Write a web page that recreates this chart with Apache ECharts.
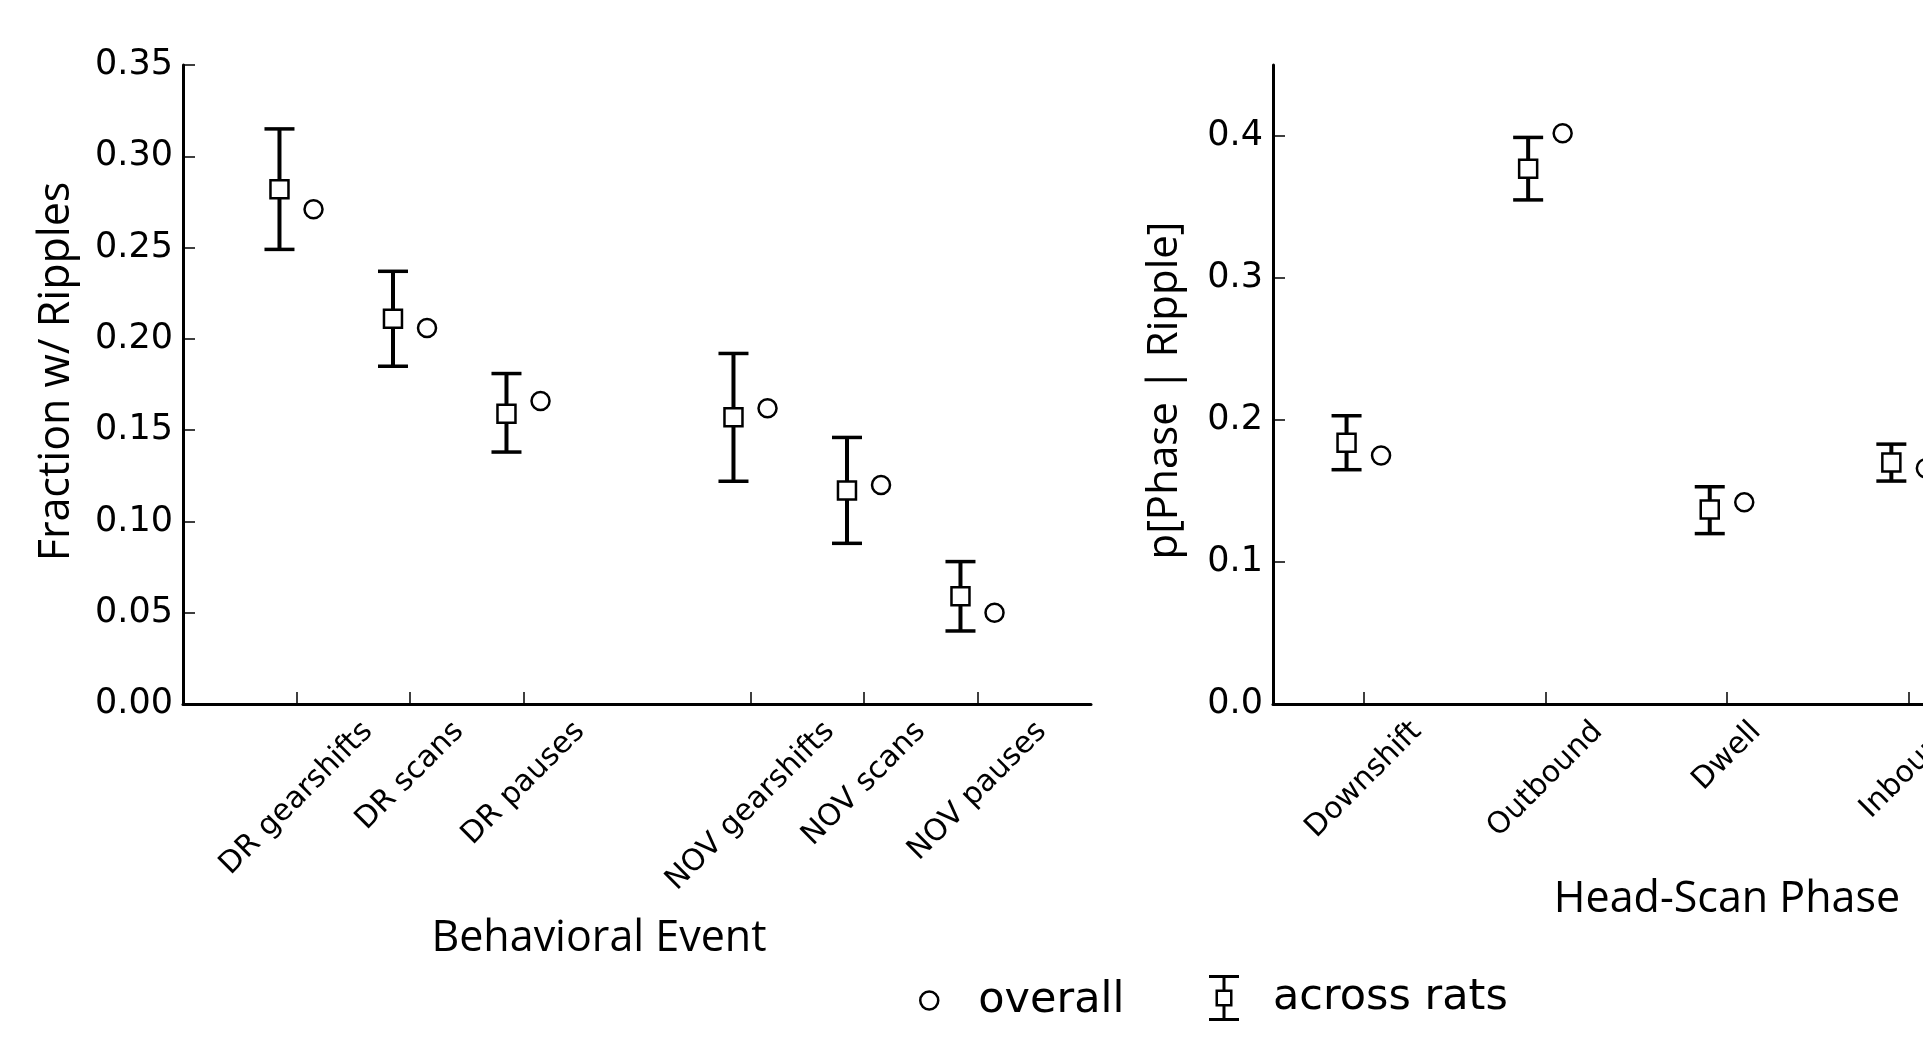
<!DOCTYPE html>
<html>
<head>
<meta charset="utf-8">
<script src="https://cdn.jsdelivr.net/npm/echarts@6/dist/echarts.min.js"></script>
<style>
html, body { margin: 0; padding: 0; background: #fff; }
#chart { width: 1923px; height: 1060px; }
</style>
</head>
<body>
<div id="chart"></div>
<script>
// left panel: behavioral events (x positions leave a gap between DR and NOV)
var eventLabels = ['DR gearshifts', 'DR scans', 'DR pauses', 'NOV gearshifts', 'NOV scans', 'NOV pauses'];
var eventPos = [1, 2, 3, 5, 6, 7];
var eventMean = [0.282, 0.211, 0.159, 0.157, 0.117, 0.059];
var eventLow = [0.249, 0.185, 0.138, 0.122, 0.088, 0.040];
var eventHigh = [0.315, 0.237, 0.181, 0.192, 0.146, 0.078];
var eventOverall = [0.271, 0.206, 0.166, 0.162, 0.120, 0.050];
var eventYTicks = [0, 0.05, 0.10, 0.15, 0.20, 0.25, 0.30, 0.35];

// right panel: head-scan phases
var phaseLabels = ['Downshift', 'Outbound', 'Dwell', 'Inbound'];
var phasePos = [0, 1, 2, 3];
var phaseMean = [0.184, 0.377, 0.137, 0.170];
var phaseLow = [0.165, 0.355, 0.120, 0.157];
var phaseHigh = [0.203, 0.399, 0.153, 0.183];
var phaseOverall = [0.175, 0.402, 0.142, 0.166];
var phaseYTicks = [0, 0.1, 0.2, 0.3, 0.4];

var chart = echarts.init(document.getElementById('chart'), null, {renderer: 'canvas'});

var tickFont = 'DejaVu Sans';
var nameFont = 'Open Sans';
var catFont = '30px "DejaVu Sans"';

var measure = document.createElement('canvas').getContext('2d');
measure.font = catFont;

// matplotlib style: 45deg labels centred on the tick, their top kept just under the axis
function tickText(labels) {
    return function (params, api) {
        var t = labels[params.dataIndex];
        var p = api.coord([api.value(0), api.value(1)]);
        var L = measure.measureText(t).width;
        return {
            type: 'text', x: p[0], y: p[1] + 11 + (L + 34) / (2 * Math.SQRT2),
            rotation: Math.PI / 4, silent: true,
            style: {text: t, align: 'center', verticalAlign: 'middle', font: catFont,
                lineHeight: 34, fill: '#000'}
        };
    };
}

function errorBar(params, api) {
    var x = api.value(0);
    var lo = api.coord([x, api.value(1)]);
    var hi = api.coord([x, api.value(2)]);
    var w = 15;
    return {
        type: 'group',
        children: [
            {type: 'line', shape: {x1: lo[0], y1: lo[1], x2: hi[0], y2: hi[1]},
                style: {stroke: '#000', lineWidth: 4}},
            {type: 'line', shape: {x1: hi[0] - w, y1: hi[1], x2: hi[0] + w, y2: hi[1]},
                style: {stroke: '#000', lineWidth: 3.5}},
            {type: 'line', shape: {x1: lo[0] - w, y1: lo[1], x2: lo[0] + w, y2: lo[1]},
                style: {stroke: '#000', lineWidth: 3.5}}
        ]
    };
}

function xAxisFor(idx, min, max, pos, name, nameGap, namePad) {
    return {
        gridIndex: idx, type: 'value', min: min, max: max,
        axisLine: {show: true, onZero: false, lineStyle: {color: '#000', width: 3}},
        axisTick: {show: true, inside: true, length: 12, customValues: pos,
            lineStyle: {color: '#000', width: 1.5}},
        axisLabel: {show: false},
        splitLine: {show: false},
        name: name, nameLocation: 'middle', nameGap: nameGap,
        nameTextStyle: {fontFamily: nameFont, fontSize: 43, color: '#000', padding: namePad}
    };
}

function yAxisFor(idx, max, ticks, digits, name, nameGap, fontSize, namePad) {
    return {
        gridIndex: idx, type: 'value', min: 0, max: max,
        axisLine: {show: true, onZero: false, lineStyle: {color: '#000', width: 3}},
        axisTick: {show: true, inside: true, length: 12, customValues: ticks,
            lineStyle: {color: '#000', width: 1.5}},
        axisLabel: {
            customValues: ticks, margin: 10, color: '#000',
            fontFamily: tickFont, fontSize: 35,
            showMinLabel: true, showMaxLabel: true,
            formatter: function (v) { return v.toFixed(digits); }
        },
        splitLine: {show: false},
        name: name, nameLocation: 'middle', nameGap: nameGap,
        nameTextStyle: {fontFamily: nameFont, fontSize: fontSize, color: '#000', padding: namePad}
    };
}

var squareStyle = {color: '#fff', borderColor: '#000', borderWidth: 2.5, opacity: 1};
var circleStyle = {color: '#fff', borderColor: '#000', borderWidth: 2.5, opacity: 1};

var leftOff = 0.15, rightOff = 0.095;

var option = {
    animation: false,
    backgroundColor: '#fff',
    grid: [
        {left: 183, top: 65, width: 908, height: 639, outerBoundsMode: 'none'},
        {left: 1273, top: 65, width: 908, height: 639, outerBoundsMode: 'none'}
    ],
    xAxis: [
        xAxisFor(0, 0, 8, eventPos, 'Behavioral Event', 213, [0, 76, 0, 0]),
        xAxisFor(1, -0.5, 4.5, phasePos, 'Head-Scan Phase', 174, 0)
    ],
    yAxis: [
        yAxisFor(0, 0.35, eventYTicks, 2, 'Fraction w/ Ripples', 105, 43, [0, 0, 0, 26]),
        yAxisFor(1, 0.45, phaseYTicks, 1, 'p[Phase | Ripple]', 87, 42, [0, 12, 0, 0])
    ],
    legend: [
        {
            data: [{name: 'overall', icon: 'circle',
                itemStyle: {color: '#fff', borderColor: '#000', borderWidth: 2.5}}],
            left: 919, top: 979, padding: 0, itemWidth: 18, itemHeight: 18,
            selectedMode: false,
            formatter: function (n) { return '{t|' + n + '}'; },
            textStyle: {rich: {t: {fontFamily: tickFont, fontSize: 43, lineHeight: 46,
                color: '#000', padding: [0, 0, 0, 35]}}}
        },
        {
            data: [{name: 'across rats',
                icon: 'path://M0 0H30V3H0Z M13.5 3H16.5V14.5H13.5Z M6.5 14.5H23.5V31.5H6.5Z M9 17V29H21V17Z M13.5 31.5H16.5V43H13.5Z M0 43H30V46H0Z',
                itemStyle: {color: '#000', borderWidth: 0}}],
            left: 1209, top: 975, padding: 0, itemWidth: 30, itemHeight: 46,
            selectedMode: false,
            formatter: function (n) { return '{t|' + n + '}'; },
            textStyle: {rich: {t: {fontFamily: tickFont, fontSize: 43, lineHeight: 46,
                color: '#000', padding: [0, 0, 0, 29]}}}
        }
    ],
    series: [
        {
            type: 'custom', xAxisIndex: 0, yAxisIndex: 0, silent: true,
            renderItem: tickText(eventLabels), encode: {x: 0, y: 1},
            data: eventPos.map(function (p) { return [p, 0]; })
        },
        {
            type: 'custom', xAxisIndex: 1, yAxisIndex: 1, silent: true,
            renderItem: tickText(phaseLabels), encode: {x: 0, y: 1},
            data: phasePos.map(function (p) { return [p, 0]; })
        },
        {
            name: 'across rats', type: 'custom', xAxisIndex: 0, yAxisIndex: 0,
            renderItem: errorBar, encode: {x: 0, y: [1, 2]}, z: 2,
            data: eventPos.map(function (p, i) { return [p - leftOff, eventLow[i], eventHigh[i]]; })
        },
        {
            name: 'across rats', type: 'scatter', xAxisIndex: 0, yAxisIndex: 0,
            symbol: 'rect', symbolSize: 18, itemStyle: squareStyle, z: 3,
            emphasis: {disabled: true},
            data: eventPos.map(function (p, i) { return [p - leftOff, eventMean[i]]; })
        },
        {
            name: 'overall', type: 'scatter', xAxisIndex: 0, yAxisIndex: 0,
            symbol: 'circle', symbolSize: 18, itemStyle: circleStyle, z: 3,
            emphasis: {disabled: true},
            data: eventPos.map(function (p, i) { return [p + leftOff, eventOverall[i]]; })
        },
        {
            name: 'across rats', type: 'custom', xAxisIndex: 1, yAxisIndex: 1,
            renderItem: errorBar, encode: {x: 0, y: [1, 2]}, z: 2,
            data: phasePos.map(function (p, i) { return [p - rightOff, phaseLow[i], phaseHigh[i]]; })
        },
        {
            name: 'across rats', type: 'scatter', xAxisIndex: 1, yAxisIndex: 1,
            symbol: 'rect', symbolSize: 18, itemStyle: squareStyle, z: 3,
            emphasis: {disabled: true},
            data: phasePos.map(function (p, i) { return [p - rightOff, phaseMean[i]]; })
        },
        {
            name: 'overall', type: 'scatter', xAxisIndex: 1, yAxisIndex: 1,
            symbol: 'circle', symbolSize: 18, itemStyle: circleStyle, z: 3,
            emphasis: {disabled: true},
            data: phasePos.map(function (p, i) { return [p + rightOff, phaseOverall[i]]; })
        }
    ]
};

chart.setOption(option);
</script>
</body>
</html>
